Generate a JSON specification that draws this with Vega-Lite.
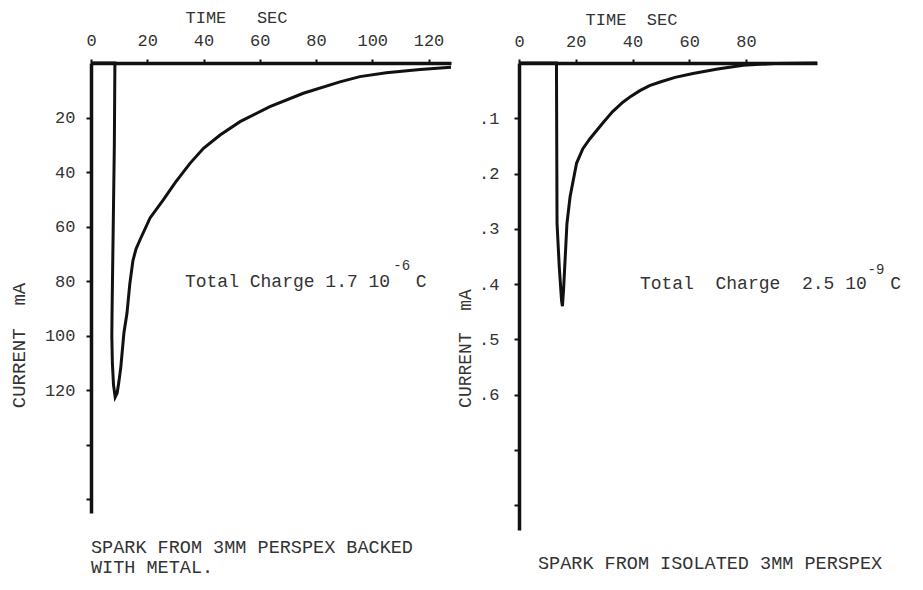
{
  "$schema": "https://vega.github.io/schema/vega-lite/v6.json",
  "background": "white",
  "padding": {"left": 9, "top": 8, "right": 5, "bottom": 5},
  "datasets": {
    "left": [
      {"i": 0, "t": 0, "c": 0},
      {"i": 1, "t": 8.5, "c": 0},
      {"i": 2, "t": 8.3, "c": 30},
      {"i": 3, "t": 7.9, "c": 60},
      {"i": 4, "t": 7.5, "c": 90},
      {"i": 5, "t": 7.4, "c": 100},
      {"i": 6, "t": 7.6, "c": 110},
      {"i": 7, "t": 8.0, "c": 118},
      {"i": 8, "t": 8.6, "c": 122.5},
      {"i": 9, "t": 9.3, "c": 121},
      {"i": 10, "t": 9.9, "c": 117},
      {"i": 11, "t": 10.6, "c": 111.5},
      {"i": 12, "t": 11.7, "c": 99},
      {"i": 13, "t": 12.8, "c": 91.7},
      {"i": 14, "t": 13.8, "c": 81},
      {"i": 15, "t": 14.9, "c": 72.5},
      {"i": 16, "t": 16.0, "c": 68.2},
      {"i": 17, "t": 17.4, "c": 64.9},
      {"i": 18, "t": 21, "c": 56.8},
      {"i": 19, "t": 25.7, "c": 50.2},
      {"i": 20, "t": 30, "c": 43.8},
      {"i": 21, "t": 35.2, "c": 36.8},
      {"i": 22, "t": 40, "c": 31.3},
      {"i": 23, "t": 45.9, "c": 26.4},
      {"i": 24, "t": 53, "c": 21.5},
      {"i": 25, "t": 63.6, "c": 16.0},
      {"i": 26, "t": 75.5, "c": 11.1},
      {"i": 27, "t": 88.5, "c": 6.9},
      {"i": 28, "t": 95.6, "c": 5.0},
      {"i": 29, "t": 105, "c": 3.6},
      {"i": 30, "t": 117, "c": 2.4},
      {"i": 31, "t": 128, "c": 1.6}
    ],
    "right": [
      {"i": 0, "t": 0, "c": 0},
      {"i": 1, "t": 13.2, "c": 0},
      {"i": 2, "t": 13.3, "c": 0.15},
      {"i": 3, "t": 13.4, "c": 0.29},
      {"i": 4, "t": 14.2, "c": 0.37},
      {"i": 5, "t": 15.0, "c": 0.43},
      {"i": 6, "t": 15.3, "c": 0.44},
      {"i": 7, "t": 15.7, "c": 0.41},
      {"i": 8, "t": 16.3, "c": 0.35},
      {"i": 9, "t": 16.9, "c": 0.29},
      {"i": 10, "t": 18.0, "c": 0.242},
      {"i": 11, "t": 20.3, "c": 0.181},
      {"i": 12, "t": 22.5, "c": 0.155},
      {"i": 13, "t": 25, "c": 0.137},
      {"i": 14, "t": 29.6, "c": 0.108},
      {"i": 15, "t": 33, "c": 0.088},
      {"i": 16, "t": 36.6, "c": 0.071},
      {"i": 17, "t": 39.5, "c": 0.06},
      {"i": 18, "t": 42.6, "c": 0.05},
      {"i": 19, "t": 46, "c": 0.041},
      {"i": 20, "t": 50, "c": 0.034},
      {"i": 21, "t": 55, "c": 0.026},
      {"i": 22, "t": 61.3, "c": 0.019},
      {"i": 23, "t": 70, "c": 0.011},
      {"i": 24, "t": 79, "c": 0.004},
      {"i": 25, "t": 90, "c": 0.001},
      {"i": 26, "t": 105, "c": 0}
    ]
  },
  "hconcat": [
    {
      "width": 360,
      "height": 450,
      "title": {
        "text": ["SPARK FROM 3MM PERSPEX BACKED", "WITH METAL."],
        "orient": "bottom",
        "anchor": "start",
        "frame": "group",
        "offset": 25,
        "lineHeight": 20
      },
      "layer": [
        {
          "data": {"name": "left"},
          "mark": {"type": "line", "color": "#111", "strokeWidth": 3},
          "encoding": {
            "x": {
              "field": "t", "type": "quantitative",
              "scale": {"domain": [0, 128], "nice": false, "zero": false},
              "axis": {
                "orient": "top", "values": [0, 20, 40, 60, 80, 100, 120],
                "title": "TIME\u00a0\u00a0\u00a0SEC", "titleX": 145, "titleY": -41,
                "titleAlign": "center", "titleBaseline": "alphabetic",
                "tickSize": 4, "labelPadding": 10
              }
            },
            "y": {
              "field": "c", "type": "quantitative",
              "scale": {"domain": [0, 165], "nice": false, "reverse": true},
              "axis": {
                "values": [20, 40, 60, 80, 100, 120, 140, 160],
                "labelExpr": "datum.value <= 120 ? datum.label : ''",
                "title": "CURRENT\u00a0\u00a0mA", "titleX": -73, "titleY": 282,
                "titleAlign": "center", "titleBaseline": "middle",
                "titleFontSize": 19, "labelPadding": 11
              }
            },
            "order": {"field": "i"}
          }
        },
        {
          "data": {"values": [{"label": "Total Charge 1.7 10"}]},
          "mark": {"type": "text", "align": "left", "baseline": "middle", "fontSize": 18, "color": "#333", "font": "Liberation Mono"},
          "encoding": {
            "x": {"datum": 33.4},
            "y": {"datum": 80.3},
            "text": {"field": "label"}
          }
        },
        {
          "data": {"values": [{"label": "-6"}]},
          "mark": {"type": "text", "align": "left", "baseline": "middle", "fontSize": 14, "color": "#333", "font": "Liberation Mono"},
          "encoding": {
            "x": {"datum": 107.5},
            "y": {"datum": 74.5},
            "text": {"field": "label"}
          }
        },
        {
          "data": {"values": [{"label": "C"}]},
          "mark": {"type": "text", "align": "left", "baseline": "middle", "fontSize": 18, "color": "#333", "font": "Liberation Mono"},
          "encoding": {
            "x": {"datum": 115.5},
            "y": {"datum": 80.3},
            "text": {"field": "label"}
          }
        }
      ]
    },
    {
      "width": 298,
      "height": 467,
      "title": {
        "text": "SPARK FROM ISOLATED 3MM PERSPEX",
        "orient": "bottom",
        "anchor": "start",
        "frame": "group",
        "offset": 24,
        "dx": 19
      },
      "layer": [
        {
          "data": {"name": "right"},
          "mark": {"type": "line", "color": "#111", "strokeWidth": 3},
          "encoding": {
            "x": {
              "field": "t", "type": "quantitative",
              "scale": {"domain": [0, 105], "nice": false, "zero": false},
              "axis": {
                "orient": "top", "values": [0, 20, 40, 60, 80],
                "title": "TIME\u00a0\u00a0SEC", "titleX": 112, "titleY": -39,
                "titleAlign": "center", "titleBaseline": "alphabetic",
                "tickSize": 4, "labelPadding": 9
              }
            },
            "y": {
              "field": "c", "type": "quantitative",
              "scale": {"domain": [0, 0.845], "nice": false, "reverse": true},
              "axis": {
                "values": [0.1, 0.2, 0.3, 0.4, 0.5, 0.6, 0.7, 0.8],
                "labelExpr": "datum.value <= 0.65 ? replace(format(datum.value, '.1f'), '0.', '.') : ''",
                "title": "CURRENT\u00a0\u00a0mA", "titleX": -54, "titleY": 285,
                "titleAlign": "center", "titleBaseline": "middle",
                "titleFontSize": 18, "labelPadding": 15
              }
            },
            "order": {"field": "i"}
          }
        },
        {
          "data": {"values": [{"label": "Total\u00a0\u00a0Charge\u00a0\u00a02.5 10"}]},
          "mark": {"type": "text", "align": "left", "baseline": "middle", "fontSize": 18, "color": "#333", "font": "Liberation Mono"},
          "encoding": {
            "x": {"datum": 42.6},
            "y": {"datum": 0.4},
            "text": {"field": "label"}
          }
        },
        {
          "data": {"values": [{"label": "-9"}]},
          "mark": {"type": "text", "align": "left", "baseline": "middle", "fontSize": 14, "color": "#333", "font": "Liberation Mono"},
          "encoding": {
            "x": {"datum": 122.8},
            "y": {"datum": 0.375},
            "text": {"field": "label"}
          }
        },
        {
          "data": {"values": [{"label": "C"}]},
          "mark": {"type": "text", "align": "left", "baseline": "middle", "fontSize": 18, "color": "#333", "font": "Liberation Mono"},
          "encoding": {
            "x": {"datum": 130.8},
            "y": {"datum": 0.4},
            "text": {"field": "label"}
          }
        }
      ]
    }
  ],
  "spacing": 68,
  "bounds": "flush",
  "config": {
    "view": {"stroke": null},
    "font": "Liberation Mono",
    "axis": {
      "grid": false,
      "domainColor": "#111",
      "domainWidth": 3.5,
      "tickColor": "#111",
      "tickWidth": 2,
      "tickSize": 5,
      "labelFont": "Liberation Mono",
      "labelFontSize": 17,
      "labelColor": "#333",
      "labelFlush": false,
      "labelOverlap": false,
      "titleFont": "Liberation Mono",
      "titleFontSize": 17,
      "titleFontWeight": "normal",
      "titleColor": "#333"
    },
    "title": {
      "font": "Liberation Mono",
      "fontSize": 18.5,
      "fontWeight": "normal",
      "color": "#333"
    }
  }
}
